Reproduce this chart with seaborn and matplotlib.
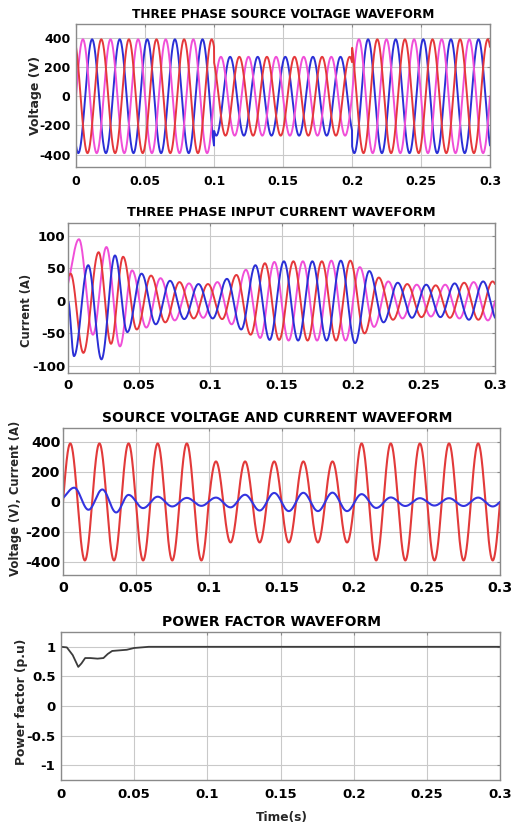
import numpy as np
import pandas as pd
import matplotlib
matplotlib.use("Agg")
import matplotlib.pyplot as plt
import seaborn as sns

# ---------------- data ----------------
freq_hz = 50.0
x_ticks = [0, 0.05, 0.1, 0.15, 0.2, 0.25, 0.3]
x_ticklabels = ["0", "0.05", "0.1", "0.15", "0.2", "0.25", "0.3"]

# source voltage: peak amplitude per time segment (sag between 0.1 s and 0.2 s)
volt_seg_edges = [0.0, 0.1, 0.2, 0.3]
volt_seg_peak = [390, 270, 390]
phase_names = ["A", "B", "C"]
phase_shift_deg = [0, -120, 120]

# input currents: start-up transient extrema (time, value) per phase
cur_a_early_t = [-0.0025, 0.0077, 0.0175, 0.0270, 0.0365]
cur_a_early_v = [15, 95, -52, 83, -70]
cur_b_early_t = [0.0, 0.0042, 0.0142, 0.0235, 0.0330]
cur_b_early_v = [0, -85, 55, -90, 70]
cur_c_early_t = [0.0, 0.0018, 0.0108, 0.0215, 0.0302, 0.0387]
cur_c_early_v = [38, 42, -80, 75, -66, 68]

# following half-cycle peak magnitudes (alternating sign), every 10 ms
cur_a_first_t = 0.045   # first peak (+)
cur_a_peaks = [47, 41, 35, 30, 27, 26, 29, 36, 48, 57, 60, 61, 61, 61, 62, 61,
               52, 40, 30, 27, 25, 24, 25, 27, 29, 30, 30]
cur_b_first_t = 0.04167  # first trough (-)
cur_b_peaks = [48, 42, 36, 31, 28, 26, 27, 34, 44, 55, 60, 61, 61, 61, 61, 62,
               65, 46, 33, 28, 26, 25, 25, 27, 29, 30, 30]
cur_c_first_t = 0.04833  # first trough (-)
cur_c_peaks = [44, 39, 33, 29, 27, 26, 28, 40, 52, 58, 60, 61, 61, 61, 61, 62,
               50, 36, 29, 26, 25, 24, 26, 28, 29, 30, 30]

# power factor
pf_t = [0, 0.004, 0.008, 0.0118, 0.014, 0.0165, 0.02, 0.025, 0.029, 0.032,
        0.035, 0.04, 0.045, 0.05, 0.06, 0.3]
pf_v = [1.0, 0.99, 0.86, 0.66, 0.72, 0.81, 0.81, 0.80, 0.81, 0.88,
        0.93, 0.94, 0.95, 0.98, 1.0, 1.0]

# ---------------- waveform construction ----------------
t = np.linspace(0, 0.3, 3001)
w = 2 * np.pi * freq_hz


def voltage(shift_deg):
    amp = np.select([t < volt_seg_edges[1], t < volt_seg_edges[2], t <= volt_seg_edges[3]],
                    volt_seg_peak)
    return amp * np.sin(w * t + np.deg2rad(shift_deg))


def half_cos_knots(tk, vk, tt):
    tk = np.asarray(tk, float)
    vk = np.asarray(vk, float)
    idx = np.clip(np.searchsorted(tk, tt, side="right") - 1, 0, len(tk) - 2)
    f = (tt - tk[idx]) / (tk[idx + 1] - tk[idx])
    return vk[idx] + (vk[idx + 1] - vk[idx]) * (1 - np.cos(np.pi * f)) / 2


def current(early_t, early_v, first_t, first_sign, peaks):
    half = 0.5 / freq_hz
    kt = list(early_t) + [first_t + half * j for j in range(len(peaks))]
    kv = list(early_v) + [first_sign * ((-1) ** j) * p for j, p in enumerate(peaks)]
    return half_cos_knots(kt, kv, t)


va, vb, vc = (voltage(s) for s in phase_shift_deg)
ia = current(cur_a_early_t, cur_a_early_v, cur_a_first_t, +1, cur_a_peaks)
ib = current(cur_b_early_t, cur_b_early_v, cur_b_first_t, -1, cur_b_peaks)
ic = current(cur_c_early_t, cur_c_early_v, cur_c_first_t, -1, cur_c_peaks)

df_v = pd.DataFrame({"t": t, "A": va, "B": vb, "C": vc})
df_i = pd.DataFrame({"t": t, "A": ia, "B": ib, "C": ic})
df_pf = pd.DataFrame({"t": pf_t, "pf": pf_v})

# ---------------- figure ----------------
sns.set_style("white")
plt.rcParams["font.family"] = ["DejaVu Sans"]
plt.rcParams["font.weight"] = "bold"

W, H = 516, 825
fig = plt.figure(figsize=(W / 100, H / 100), dpi=100)


def add_ax(l, tp, r, b):
    return fig.add_axes([l / W, 1 - b / H, (r - l) / W, (b - tp) / H])


RED = "#e5383b"
MAG = "#f04fd8"
BLUE = "#2b2fd6"


def style(ax, box, ylim, yticks, yticklabels, tick_fs, title, title_fs, title_cy,
          ylabel, ylabel_fs, ylabel_cx, ylabel_cy, xpad, ypad, title_cx=None):
    l, tp, r, b = box
    ax.set_xlim(0, 0.3)
    ax.set_ylim(*ylim)
    ax.set_xticks(x_ticks)
    ax.set_xticklabels(x_ticklabels, fontsize=tick_fs, fontweight="bold")
    ax.set_yticks(yticks)
    ax.set_yticklabels(yticklabels, fontsize=tick_fs, fontweight="bold")
    ax.grid(True, color="#c9c9c9", lw=0.8)
    ax.set_axisbelow(True)
    for s in ax.spines.values():
        s.set_color("#8a8a8a")
        s.set_linewidth(1.0)
    ax.tick_params(axis="x", direction="in", length=2.5, pad=xpad, colors="#8a8a8a",
                   labelcolor="black", top=True)
    ax.tick_params(axis="y", direction="in", length=2.5, pad=ypad, colors="#8a8a8a",
                   labelcolor="black", right=True)
    ax.set_xlabel("")
    cx = 0.5 if title_cx is None else (title_cx - l) / (r - l)
    ax.set_title(title, fontsize=title_fs, fontweight="bold", color="black", pad=0,
                 x=cx, y=1 + (tp - title_cy) / (b - tp), va="center")
    ax.set_ylabel(ylabel, fontsize=ylabel_fs, fontweight="bold", va="center")
    ax.yaxis.set_label_coords((ylabel_cx - l) / (r - l), (b - ylabel_cy) / (b - tp))


# Panel 1: three phase source voltage
b1 = (76, 24, 490, 167)
ax1 = add_ax(*b1)
for ph, col in zip(["B", "A", "C"], [BLUE, MAG, RED]):
    sns.lineplot(data=df_v, x="t", y=ph, ax=ax1, color=col, lw=1.4,
                 estimator=None, errorbar=None)
style(ax1, b1, (-485, 495), [-400, -200, 0, 200, 400],
      ["-400", "-200", "0", "200", "400"], 9,
      "THREE PHASE SOURCE VOLTAGE WAVEFORM", 8.7, 15,
      "Voltage (V)", 9, 35, 95, 6, 4)

# Panel 2: three phase input current
b2 = (68, 223, 495, 373)
ax2 = add_ax(*b2)
for ph, col in zip(["A", "C", "B"], [MAG, RED, BLUE]):
    sns.lineplot(data=df_i, x="t", y=ph, ax=ax2, color=col, lw=1.4,
                 estimator=None, errorbar=None)
style(ax2, b2, (-111, 120), [-100, -50, 0, 50, 100],
      ["-100", "-50", "0", "50", "100"], 9.5,
      "THREE PHASE INPUT CURRENT WAVEFORM", 9.3, 212,
      "Current (A)", 8.3, 27, 310, 4, 2)

# Panel 3: source voltage and current (phase A)
b3 = (63, 428, 500, 575)
ax3 = add_ax(*b3)
sns.lineplot(data=df_v, x="t", y="A", ax=ax3, color="#e23a3a", lw=1.5,
             estimator=None, errorbar=None)
sns.lineplot(data=df_i, x="t", y="A", ax=ax3, color="#3434e0", lw=1.5,
             estimator=None, errorbar=None)
style(ax3, b3, (-487, 493), [-400, -200, 0, 200, 400],
      ["-400", "-200", "0", "200", "400"], 10.2,
      "SOURCE VOLTAGE AND CURRENT WAVEFORM", 10, 418,
      "Voltage (V), Current (A)", 8.4, 16, 498, 4, 2, title_cx=277)

# Panel 4: power factor
b4 = (61, 632, 500, 780)
ax4 = add_ax(*b4)
sns.lineplot(data=df_pf, x="t", y="pf", ax=ax4, color="#3c3c3c", lw=1.3,
             estimator=None, errorbar=None)
style(ax4, b4, (-1.25, 1.25), [-1, -0.5, 0, 0.5, 1],
      ["-1", "-0.5", "0", "0.5", "1"], 9.5,
      "POWER FACTOR WAVEFORM", 10, 622,
      "Power factor (p.u)", 8.8, 22, 702, 6, 4, title_cx=272)
ax4.set_xlabel("Time(s)", fontsize=8.8, fontweight="bold")
ax4.xaxis.set_label_coords((282 - 61) / 439, -(817 - 780) / 148)
ax4.xaxis.label.set_va("center")

fig.savefig("out.png", dpi=100, facecolor="white")
